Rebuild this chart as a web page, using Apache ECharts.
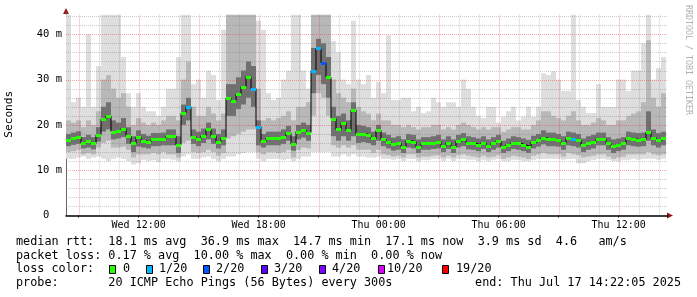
<!DOCTYPE html>
<html><head><meta charset="utf-8">
<script src="https://cdn.jsdelivr.net/npm/echarts@6/dist/echarts.min.js"></script>
<style>html,body{margin:0;padding:0;background:#fff}#c{width:697px;height:297px}</style>
</head><body><div id="c"></div>
<script>
// ---- time base (hours since Wed 00:00) ----
const startHour = 8 + 22/60 + 5/3600;   // Wed 08:22:05
const stepHours = 0.25;                  // one value per 15 minutes
// ---- median RTT (ms) ----
const median = [
16.7,17.0,17.3,16.0,16.4,15.9,17.8,21.3,22.0,18.5,
18.6,19.2,17.6,15.9,17.3,16.5,16.2,16.8,16.8,16.9,
17.5,17.6,15.6,22.6,24.0,17.4,16.9,17.6,19.0,17.6,
16.3,17.2,25.9,25.3,26.8,28.4,30.6,28.0,19.6,16.5,
17.0,17.1,17.0,17.4,18.2,15.7,18.5,18.9,18.3,32.0,
36.9,33.7,30.5,21.4,19.0,20.5,18.8,23.3,18.0,18.0,
17.8,17.0,18.8,16.8,16.3,15.7,16.0,15.2,16.5,16.3,
15.2,15.9,15.9,16.1,16.3,15.3,16.1,15.2,16.4,16.8,
16.0,15.9,15.6,16.1,15.4,15.9,16.4,15.1,15.6,16.1,
15.9,15.6,15.2,16.2,16.6,17.2,16.8,16.8,16.6,16.0,
17.0,16.8,16.6,15.6,16.0,16.3,16.9,16.9,15.9,15.3,
15.6,15.9,17.0,16.9,16.7,16.8,18.4,17.2,16.6,17.0];
// ---- lost pings (of 20) ----
const loss = [
0,0,0,0,0,0,0,0,0,0, 0,0,0,0,0,0,0,0,0,0,
0,0,0,0,1,0,0,0,0,0, 0,0,0,0,0,0,0,1,1,0,
0,0,0,0,0,0,0,0,0,1, 1,2,0,0,0,0,0,0,0,0,
0,0,0,0,0,0,0,0,0,0, 0,0,0,0,0,0,0,0,0,0,
0,0,0,0,0,0,0,0,0,0, 0,0,0,0,0,0,0,0,0,0,
0,1,0,0,0,0,0,0,0,0, 0,0,0,0,0,0,0,0,0,0];
// ---- smoke: outer (all pings) ----
const outerHi = [
44.3,25,26,24,40,24,33,44.3,44.3,44.3,
44.3,35,27,24,27,24,23,23,22,24,
28,28,35,44.3,44.3,29,30,26,32,31,
25.5,41,44.3,44.3,44.3,44.3,44.3,44.3,43,41,
27,25.5,26,30,32,44.3,44.3,32,28,44.3,
44.3,44.3,44.3,38.5,36,30,29,43,30,29,
31,26,29.5,27,39.8,25.5,25.5,26,26,23,
24,22.6,23,26,25,24,25,25,24,30,
28,24,22,21.5,24,24,20.5,21.8,23,24,
21,21.8,24,21.8,24,31.4,31,31.8,30,27.5,
27.5,44.3,25.5,24,22.6,22.6,29,24,24,24,
30,30,27.5,32,32,38,44.3,30,32.5,35];
const outerLo = [
12.5,12.5,12.8,13,12.5,12.8,13,12.5,12,12.5,
12.8,12.5,12,11.3,11.5,12.3,12,12.2,11.8,12.5,
12.5,12.3,12,13,13.5,12.5,12.5,12.8,13,12.5,
12,12.5,13,13,13.5,13.8,14,14,12.5,12,
12.5,12.5,12.5,12.3,12.5,12,12.5,13,13,14,
14,14,14,13,13,13.5,13,13.5,13,13,
12.8,12.8,13,12.5,12.5,12.3,12.5,12,12.5,12.5,
12,12.3,12.3,12.5,12.5,12,12.5,12,12.5,12.5,
12.3,12.3,12,12.3,12,12.3,12.5,12,12,12.3,
12.3,12,12,12.3,12.5,12.5,12.5,12.5,12.5,12.3,
12.5,12.5,11.5,11.5,12,12.3,12.5,12.5,12.3,12,
12,12.3,12.3,12.5,12.3,12.5,12.5,12.5,12.3,12.5];
// ---- smoke: middle ----
const midHi = [
21,20.5,21,19.5,21,20,23,30,31,28,
26,27,24,20,21.5,20.5,20,20.5,20,21,
22,22,21,30,34,24,22,22,24,22.5,
21,22.5,44.3,44.3,44.3,44.3,44.3,44.3,28,21,
21.5,21,21.5,22,23,21,24,24,25,44.3,
44.3,44.3,44.3,30,27,26,25,28,24,23,
22.5,21,22.5,21,21,20,20,19.5,20,19.5,
19,19.5,19.5,20,20,19,19.5,19,20,20.5,
20,19.5,19,19.5,19,19.5,19.5,18.5,19,19.5,
19.5,19,19,20,21,23,23,22,21.5,21,
22,23,21,20,20,20.5,21.5,21,20,20,
21,21,22,22.5,23,25,38.7,26,24,27];
const midLo = [
14,14.2,14.5,13.5,13.8,13.5,15,16,16.5,15,
15,15.2,14.5,12.8,13.5,13.5,13.5,13.8,13.5,14,
13.5,13.5,12.8,16,16.5,14,13.8,14,14.5,14,
13.2,13.8,17,17.5,18,18.5,19,19,14,13.5,
14,14,13.8,14,14.5,12.8,14.5,15,14.8,22,
27,26,22,15.5,15,15.5,15,15.5,14.5,14.5,
14.5,13.8,14.5,13.5,13.3,13,13.2,12.8,13.5,13.5,
12.8,13,13,13.2,13.3,12.8,13.2,12.8,13.3,13.5,
13.2,13,12.8,13.2,12.8,13,13.3,12.5,12.8,13.2,
13,12.8,12.5,13.2,13.5,13.8,13.5,13.5,13.5,13,
13.8,13.5,13.3,12.8,13,13.2,13.5,13.5,13,12.5,
12.8,13,13.5,13.5,13.5,13.5,14,13.5,13.3,13.5];
// ---- smoke: core ----
const coreHi = [
18,18.3,18.6,17.3,17.8,17.3,19.5,24,25,21,
20.5,21.5,19.5,17.5,18.8,18,17.6,18.2,18.2,18.3,
19,19,17.5,24.5,26,19,18.5,19.2,20.5,19.2,
18,19,29,29,30.5,32,34,33,21,18,
18.5,18.5,18.5,19,19.8,17.5,20,20.5,20,37,
39,38,35,24,22,22.5,21,25,20,19.8,
19.5,18.5,20,18.3,17.8,17.2,17.5,16.8,18,17.8,
16.8,17.3,17.3,17.5,17.8,16.8,17.5,16.8,17.8,18.2,
17.5,17.3,17,17.5,16.8,17.3,17.8,16.5,17,17.5,
17.3,17,16.7,17.6,18,18.8,18.3,18.3,18,17.5,
18.5,18.3,18,17,17.5,17.8,18.3,18.3,17.3,16.8,
17,17.3,18.5,18.3,18.2,18.3,23,19,18.2,18.5];
const coreLo = [
15.3,15.6,15.8,14.8,15,14.6,16.3,18.5,19,16.8,
17,17.3,15.8,14,15.2,15,14.8,15.3,15.3,15.5,
15.5,15.5,13.8,20,21,15.8,15.3,16,16.8,15.8,
14.8,15.5,22,22,23.5,24.5,26,24,15.5,15,
15.5,15.5,15.5,15.8,16.5,14.3,16.8,17.2,16.5,27,
31,29,26,17.5,16.5,17.5,16.5,17.5,16,16.2,
16,15.5,16.5,15.3,14.8,14.3,14.5,13.8,15,14.8,
13.8,14.5,14.5,14.7,14.8,14,14.7,13.8,15,15.3,
14.6,14.5,14.2,14.7,14,14.5,15,13.8,14.2,14.7,
14.5,14.2,13.8,14.8,15.2,15.7,15.3,15.3,15.2,14.5,
15.5,15.3,15,14,14.5,14.8,15.5,15.5,14.5,13.8,
14.2,14.5,15.5,15.3,15.2,15.3,16.5,15.5,15,15.5];
// ---- axis labels ----
const yLabelValues = [0, 10, 20, 30, 40];
const xLabelHours = [12, 18, 24, 30, 36];
const xLabelText = ['Wed 12:00', 'Wed 18:00', 'Thu 00:00', 'Thu 06:00', 'Thu 12:00'];
// ---- loss colour legend ----
const lossLevels = [0, 1, 2, 3, 4, 10, 19];
const lossLabels = ['0', '1/20', '2/20', '3/20', '4/20', '10/20', '19/20'];
const lossColors = ['#26ff00', '#00b8ff', '#0059ff', '#5e00ff', '#7e00ff', '#dd00ff', '#ff0000'];
// ---- statistics text ----
const rttStats = ['18.1', '36.9', '14.7', '17.1', '3.9', '4.6'];
const lossStats = ['0.17', '10.00', '0.00', '0.00'];
const probeText = '20 ICMP Echo Pings (56 Bytes) every 300s';
const endText = 'Thu Jul 17 14:22:05 2025';

const MONO = '"DejaVu Sans Mono", monospace';
const xMin = startHour, xMax = startHour + 30.1, yMax = 44.7;
const times = median.map((_, i) => startHour + i * stepHours);

function lossColor(n) {
  let c = lossColors[0];
  for (let k = 0; k < lossLevels.length; k++) if (n >= lossLevels[k]) c = lossColors[k];
  return c;
}

function band(lo, hi, color, z) {
  return {
    type: 'custom', z: z, silent: true,
    data: times.map((t, i) => [t, lo[i], hi[i]]),
    encode: { x: 0, y: [1, 2] },
    renderItem: function (params, api) {
      const t = api.value(0);
      const a = api.coord([t, api.value(2)]);
      const b = api.coord([t + stepHours, api.value(1)]);
      const x0 = Math.round(a[0]), x1 = Math.round(b[0]);
      return { type: 'rect', shape: { x: x0, y: a[1], width: x1 - x0, height: b[1] - a[1] }, style: { fill: color } };
    }
  };
}

const hGrid = []; for (let v = 2; v <= 44; v += 2) hGrid.push([xMin, v]);
const vGrid = []; for (let h = 9; h <= 38; h++) vGrid.push([h, 0]);
const MAJOR = 'rgba(235,40,40,0.42)', MINOR = 'rgba(120,120,120,0.38)';

const stepLine = times.map((t, i) => [t, median[i]]);
stepLine.push([startHour + median.length * stepHours, median[median.length - 1]]);

const option = {
  animation: false,
  backgroundColor: '#fff',
  grid: { left: 66, right: 29, top: 13, bottom: 81.5, containLabel: false, outerBoundsMode: 'none' },
  xAxis: {
    type: 'value', min: xMin, max: xMax,
    splitLine: { show: false },
    axisLine: { lineStyle: { color: '#000', width: 1.5 } },
    axisTick: { show: true, length: 2, lineStyle: { color: '#000' }, customValues: [9,12,15,18,21,24,27,30,33,36] },
    axisLabel: {
      customValues: xLabelHours, margin: 5,
      fontFamily: MONO, fontSize: 10, color: '#000',
      formatter: v => xLabelText[xLabelHours.indexOf(Math.round(v))] || ''
    }
  },
  yAxis: {
    type: 'value', min: 0, max: yMax,
    name: 'Seconds', nameLocation: 'middle', nameRotate: 90, nameGap: 51,
    nameTextStyle: { fontFamily: MONO, fontSize: 11.2, color: '#000' },
    splitLine: { show: false },
    axisLine: { show: true, lineStyle: { color: '#666', width: 1 } },
    axisTick: { show: false },
    axisLabel: {
      customValues: yLabelValues, margin: 4,
      fontFamily: MONO, fontSize: 10.5, color: '#000',
      formatter: v => v === 0 ? '0  ' : v + ' m'
    }
  },
  series: [
    band(outerLo, outerHi, '#dedede', 1),
    band(midLo, midHi, '#b8b8b8', 2),
    band(coreLo, coreHi, '#707070', 3),
    {
      type: 'custom', z: 4, silent: true, data: hGrid, encode: { x: 0, y: 1 },
      renderItem: function (params, api) {
        const v = api.value(1), cs = params.coordSys;
        const y = Math.round(api.coord([xMin, v])[1]) + 0.5;
        return { type: 'line', shape: { x1: cs.x, y1: y, x2: cs.x + cs.width, y2: y },
          style: { stroke: v % 10 === 0 ? MAJOR : MINOR, lineWidth: 1, lineDash: [1, 1] } };
      }
    },
    {
      type: 'custom', z: 4, silent: true, data: vGrid, encode: { x: 0, y: 1 },
      renderItem: function (params, api) {
        const h = api.value(0);
        const p0 = api.coord([h, 0]), p1 = api.coord([h, 44.3]);
        const x = Math.round(p0[0]) + 0.5;
        return { type: 'line', shape: { x1: x, y1: p0[1], x2: x, y2: p1[1] },
          style: { stroke: h % 3 === 0 ? MAJOR : MINOR, lineWidth: 1, lineDash: [1, 1] } };
      }
    },
    {
      type: 'line', z: 5, silent: true, step: 'end', showSymbol: false, symbol: 'none',
      data: stepLine, lineStyle: { color: '#000', width: 1 }
    },
    {
      type: 'custom', z: 6, silent: true,
      data: times.map((t, i) => [t, median[i], loss[i]]),
      encode: { x: 0, y: 1 },
      renderItem: function (params, api) {
        const t = api.value(0);
        const a = api.coord([t, api.value(1)]);
        const b = api.coord([t + stepHours, api.value(1)]);
        const x0 = Math.round(a[0]), x1 = Math.round(b[0]);
        return { type: 'rect', shape: { x: x0, y: Math.round(a[1]) - 1, width: x1 - x0, height: 3 },
          style: { fill: lossColor(api.value(2)) } };
      }
    }
  ]
};

const chart = echarts.init(document.getElementById('c'));
chart.setOption(option);

const o = chart.convertToPixel({ gridIndex: 0 }, [xMin, 0]);
const xe = chart.convertToPixel({ gridIndex: 0 }, [xMax, 0]);
const yt = chart.convertToPixel({ gridIndex: 0 }, [xMin, yMax]);
const ARROW = '#9a1a1a';
const font = '11.8px ' + MONO;
function txt(s, x, y, align) {
  return { type: 'text', x: x, y: y, silent: true,
    style: { text: s, font: font, fill: '#000', align: align || 'left', verticalAlign: 'middle' } };
}
const g = [
  { type: 'polygon', silent: true, shape: { points: [[xe[0] - 1, o[1] - 3], [xe[0] + 5, o[1]], [xe[0] - 1, o[1] + 3]] }, style: { fill: ARROW } },
  { type: 'polygon', silent: true, shape: { points: [[o[0] - 3, yt[1] + 1], [o[0], yt[1] - 5], [o[0] + 3, yt[1] + 1]] }, style: { fill: ARROW } },
  { type: 'text', x: 688, y: 5, rotation: -Math.PI / 2, silent: true,
    style: { text: 'RRDTOOL / TOBI OETIKER', font: '8.3px ' + MONO, fill: '#b0b0b0', align: 'left', verticalAlign: 'middle' } },
  txt('median rtt:  ' + rttStats[0] + ' ms avg  ' + rttStats[1] + ' ms max  ' + rttStats[2] + ' ms min  ' +
      rttStats[3] + ' ms now  ' + rttStats[4] + ' ms sd  ' + rttStats[5] + '   am/s', 16, 242),
  txt('packet loss: ' + lossStats[0] + ' % avg  ' + lossStats[1] + ' % max  ' + lossStats[2] + ' % min  ' +
      lossStats[3] + ' % now', 16, 255.5),
  txt('loss color:', 16, 269.3),
  txt('probe:       ' + probeText, 16, 283),
  txt('end: ' + endText, 681, 283, 'right')
];
const boxX = [109, 146, 203, 261, 319, 378, 442];
const labX = [123, 159, 216, 274, 332, 387, 456];
lossColors.forEach((c, k) => {
  g.push({ type: 'rect', silent: true, shape: { x: boxX[k] + 0.5, y: 265.5, width: 6, height: 8 },
    style: { fill: c, stroke: '#000', lineWidth: 1 } });
  g.push(txt(lossLabels[k], labX[k], 269.3));
});
chart.setOption({ graphic: g });
</script>
</body></html>
